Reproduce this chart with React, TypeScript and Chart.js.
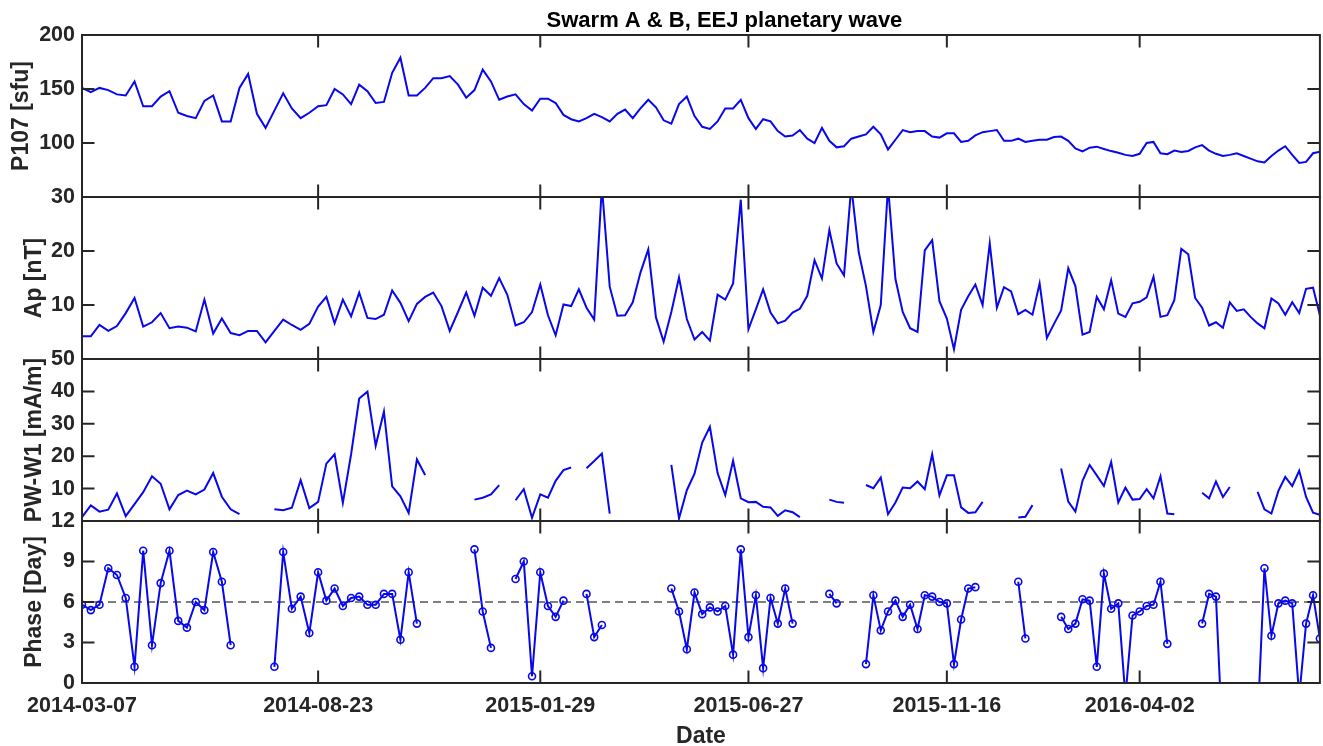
import React, { useEffect, useRef } from 'react';
import { Chart, registerables } from 'chart.js';

Chart.register(...registerables);

const titleText = 'Swarm A & B, EEJ planetary wave';
const xTitle = 'Date';
const tickDays = [0, 169, 328, 477, 619, 757];
const tickLabels = ['2014-03-07', '2014-08-23', '2015-01-29', '2015-06-27', '2015-11-16', '2016-04-02'];

// sample dates, in days after 2014-03-07
const sampleDay = [
  0, 6.3, 12.5, 18.8, 25.0, 31.3, 37.6, 43.8, 50.1, 56.3, 62.6, 68.9, 75.1, 81.4, 87.6, 93.9, 100.1, 106.4, 112.7, 118.9,
  125.2, 131.4, 137.7, 144.0, 150.2, 156.5, 162.7, 169.0,
  174.9, 180.8, 186.7, 192.6, 198.4, 204.3, 210.2, 216.1, 222.0, 227.9, 233.8, 239.7, 245.6, 251.4, 257.3, 263.2, 269.1,
  275.0, 280.9, 286.8, 292.7, 298.6, 304.4, 310.3, 316.2, 322.1, 328.0,
  333.5, 339.0, 344.6, 350.1, 355.6, 361.1, 366.6, 372.1, 377.7, 383.2, 388.7, 394.2, 399.7, 405.3, 410.8, 416.3, 421.8,
  427.3, 432.9, 438.4, 443.9, 449.4, 454.9, 460.4, 466.0, 471.5, 477.0,
  482.3, 487.5, 492.8, 498.0, 503.3, 508.6, 513.8, 519.1, 524.3, 529.6, 534.9, 540.1, 545.4, 550.6, 555.9, 561.1, 566.4,
  571.7, 576.9, 582.2, 587.4, 592.7, 598.0, 603.2, 608.5, 613.7, 619.0,
  624.1, 629.2, 634.3, 639.4, 644.6, 649.7, 654.8, 659.9, 665.0, 670.1, 675.2, 680.3, 685.4, 690.6, 695.7, 700.8, 705.9,
  711.0, 716.1, 721.2, 726.3, 731.4, 736.6, 741.7, 746.8, 751.9, 757.0,
  762.0, 766.9, 771.9, 776.8, 781.8, 786.8, 791.8, 796.7, 801.7, 806.7, 811.6, 816.6, 821.5, 826.5, 831.5, 836.4, 841.4,
  846.3, 851.3, 856.3, 861.2, 866.2, 871.2, 876.1, 881.1, 886.0,
];

const p107 = [
  151, 147, 151, 149, 145, 144, 157, 134, 134, 143, 148, 128, 125, 123, 139, 144, 120, 120, 151, 164, 127, 114, 130, 146,
  132, 123, 128, 134, 135, 150, 145, 136, 154, 148, 137, 138, 165, 179, 144, 144, 151, 160,
  160, 162, 154, 142, 149, 168, 157, 140, 143, 145, 136, 130, 141, 141, 137, 126, 122, 120, 123, 127, 124, 120, 127, 131,
  123, 132, 140, 133, 121, 118, 136, 143, 125, 115, 113, 120, 132, 132, 140, 123, 113, 122, 120, 111, 106, 107, 112, 104,
  100, 114, 102, 96, 97, 104, 106, 108, 115,
  108, 94, 103, 112, 110, 111, 111, 106, 105, 109, 109, 101, 102, 107, 110, 111, 112, 102, 102, 104, 101, 102, 103, 103,
  105.5, 106, 102, 95, 92.3, 95.7, 96.6, 94.5, 92.5, 91, 89, 88, 90, 100, 101, 90.5, 89.6, 93, 91.7, 92.6, 96, 98, 93, 90,
  88, 89, 90.5, 88, 85.5, 83, 82, 88, 93, 97, 89, 81.5, 82.5, 90.5, 92,
];

const ap = [
  4.2, 4.2, 6.3, 5.2, 6.1, 8.5, 11.3, 6.0, 6.8, 8.5, 5.7, 6.0, 5.8, 5.1, 11.0, 4.7, 7.5, 4.8, 4.4, 5.2, 5.2, 3.1, 5.2, 7.3,
  6.3, 5.4, 6.5, 9.7, 11.5, 6.6, 11.0, 7.9, 12.3, 7.6, 7.4, 8.2, 12.7, 10.4, 7.0, 10.2, 11.5, 12.3,
  9.8, 5.2, 8.7, 12.3, 8.0, 13.2, 11.7, 15.0, 11.9, 6.2, 6.8, 8.7, 13.8, 8.1, 4.4, 10.1, 9.8, 12.9, 9.5, 7.3, 32, 13.4,
  8.0, 8.1, 10.5, 16.0, 20.3, 7.7, 3.2, 8.7, 15.1, 7.4, 3.6, 5.0, 3.4, 11.9, 11.0, 14.0, 29.5, 5.5, 9.2, 12.9, 8.6, 6.6,
  7.1, 8.6, 9.3, 11.7, 18.3, 14.9, 23.9, 17.7, 15.5, 32, 19.8, 13.5, 5.0, 10.0,
  32, 14.8, 8.7, 5.7, 5.0, 20.1, 22.0, 10.7, 7.5, 1.8, 9.1, 11.6, 13.8, 10.0, 21.4, 9.5, 13.3, 12.5, 8.3, 9.1, 8.2, 14.0,
  3.9, 6.5, 9.0, 16.8, 13.5, 4.5, 5.0, 11.5, 9.2, 14.6, 8.4, 7.8, 10.3, 10.6, 11.4, 15.2, 7.8, 8.1, 10.9, 20.4, 19.4, 11.3,
  9.5, 6.2, 6.8, 5.8, 10.5, 8.9, 9.2, 7.8, 6.6, 5.7, 11.2, 10.3, 8.2, 10.5, 8.5, 13.0, 13.2, 8.1,
];

const pwW1 = [
  1.2, 4.8, 2.9, 3.5, 8.5, 1.5, 5.2, 8.9, 13.8, 11.5, 3.6, 8.0, 9.4, 8.2, 9.7, 14.8, 7.5, 3.6, 2.1,
  null, null, null,
  3.6, 3.3, 4.1, 12.6, 4.0, 5.9, 17.7, 20.6, 5.6, 20.6, 37.8, 39.9, 23.2, 33.8, 10.7, 7.6, 2.5, 19.0, 14.2,
  null, null, null, null, null,
  6.6, 7.2, 8.2, 11.1,
  null,
  6.4, 9.8, 1.0, 8.2, 7.2, 12.4, 15.7, 16.5,
  null,
  16.3, 18.5, 20.8, 2.3,
  null, null, null, null, null, null, null,
  17.3, 0.8, 9.5, 14.6, 24.2, 29.1, 14.8, 8.0, 18.6, 7.0, 5.8, 5.9, 4.4, 4.2, 1.6, 3.3, 2.7, 1.2,
  null, null, null,
  6.6, 5.9, 5.6,
  null, null,
  11.1, 10.1, 13.4, 2.1, 5.7, 10.3, 10.1, 12.2, 9.8, 20.6, 7.9, 14.1, 14.1, 4.2, 2.5, 2.7, 5.9,
  null, null, null, null,
  1.1, 1.3, 4.9,
  null, null, null,
  16.2, 6.0, 2.9, 12.4, 17.3, 14.1, 10.8, 18.2, 5.7, 10.3, 6.6, 6.8, 9.8, 7.0, 13.8, 2.3, 2.1,
  null, null, null,
  8.7, 7.0, 12.2, 7.4, 10.5,
  null, null, null,
  9.0, 3.6, 2.3, 9.3, 13.6, 10.8, 15.5, 7.4, 2.6, 1.9,
];

const phase = [
  5.8, 5.4, 5.8, 8.5, 8.0, 6.3, 1.2, 9.8, 2.8, 7.4, 9.8, 4.6, 4.1, 6.0, 5.4, 9.7, 7.5, 2.8,
  null, null, null, null,
  1.2, 9.7, 5.5, 6.4, 3.7, 8.2, 6.1, 7.0, 5.7, 6.3, 6.4, 5.8, 5.8, 6.6, 6.6, 3.2, 8.2, 4.4,
  null, null, null, null, null, null,
  9.9, 5.3, 2.6,
  null, null,
  7.7, 9.0, 0.5, 8.2, 5.7, 4.9, 6.1,
  null, null,
  6.6, 3.4, 4.3,
  null, null, null, null, null, null, null, null,
  7.0, 5.3, 2.5, 6.7, 5.1, 5.6, 5.3, 5.7, 2.1, 9.9, 3.4, 6.5, 1.1, 6.3, 4.4, 7.0, 4.4,
  null, null, null, null,
  6.6, 5.9,
  null, null, null,
  1.4, 6.5, 3.9, 5.3, 6.1, 4.9, 5.8, 4.0, 6.5, 6.4, 6.0, 5.9, 1.4, 4.7, 7.0, 7.1,
  null, null, null, null, null,
  7.5, 3.3,
  null, null, null, null,
  4.9, 4.0, 4.4, 6.2, 6.1, 1.2, 8.1, 5.5, 5.9, -1, 5.0, 5.3, 5.7, 5.8, 7.5, 2.9,
  null, null, null, null,
  4.4, 6.6, 6.4, -5,
  null, null, null, null,
  -3, 8.5, 3.5, 5.9, 6.1, 5.9, -1, 4.4, 6.5, 3.3,
];

const phaseRef = 6;
const xMin = 0;
const xMax = 886;

const INK = '#262626';
const BLUE = 'rgb(8,8,235)';
const FONT = "'Liberation Sans', Arial, Helvetica, sans-serif";
const TICK_LEN = 12.5;
const panelIds = ['yP107', 'yAp', 'yPW', 'yPh'];

const toPoints = (vals: (number | null)[]) => vals.map((v, i) => ({ x: sampleDay[i], y: v }));

const framePlugin = {
  id: 'matlabFrame',
  afterDraw(chart: any) {
    const { ctx, chartArea } = chart;
    const { left, right, top: areaTop } = chartArea;
    const xs = chart.scales.x;
    ctx.save();
    ctx.strokeStyle = INK;
    ctx.lineWidth = 2;
    panelIds.forEach((id) => {
      const s = chart.scales[id];
      const top = s.top;
      const bottom = s.bottom;
      ctx.beginPath();
      tickDays.forEach((d) => {
        const px = xs.getPixelForValue(d);
        ctx.moveTo(px, top);
        ctx.lineTo(px, top + TICK_LEN);
        ctx.moveTo(px, bottom);
        ctx.lineTo(px, bottom - TICK_LEN);
      });
      s.ticks.forEach((t: any) => {
        const py = s.getPixelForValue(t.value);
        ctx.moveTo(left, py);
        ctx.lineTo(left + TICK_LEN, py);
        ctx.moveTo(right, py);
        ctx.lineTo(right - TICK_LEN, py);
      });
      ctx.stroke();
      ctx.strokeRect(left, top, right - left, bottom - top);
    });
    // figure title (centred on the original, wider figure)
    ctx.fillStyle = '#000';
    ctx.font = `bold 22px ${FONT}`;
    ctx.textAlign = 'center';
    ctx.textBaseline = 'middle';
    ctx.fillText(titleText, (left + right) / 2 + 23.5, areaTop - 14.5);
    ctx.restore();
  },
};

const mkY = (min: number, max: number, step: number, hide: number | null, title: string, padTop: number) => ({
  type: 'linear',
  position: 'left',
  stack: 'panels',
  stackWeight: 1,
  min,
  max,
  ticks: {
    stepSize: step,
    autoSkip: false,
    padding: 7,
    color: INK,
    font: { family: FONT, size: 21.5, weight: 'bold' },
    callback: (v: any) => (hide !== null && Number(v) === hide ? '' : String(v)),
  },
  grid: { display: false, drawTicks: false },
  border: { display: false },
  title: {
    display: true,
    text: title,
    color: INK,
    font: { family: FONT, size: 23, weight: 'bold' },
    padding: { top: padTop, bottom: 0 },
  },
  afterFit: (s: any) => {
    s.width = 82;
  },
});

export default function App() {
  const ref = useRef<HTMLCanvasElement>(null);

  useEffect(() => {
    if (!ref.current) return;
    const chart = new Chart(ref.current, {
      type: 'line',
      data: {
        datasets: [
          {
            data: toPoints(p107),
            yAxisID: 'yP107',
            borderColor: BLUE,
            borderWidth: 2,
            pointRadius: 0,
            spanGaps: false,
          },
          {
            data: toPoints(ap),
            yAxisID: 'yAp',
            borderColor: BLUE,
            borderWidth: 2,
            pointRadius: 0,
            spanGaps: false,
          },
          {
            data: toPoints(pwW1),
            yAxisID: 'yPW',
            borderColor: BLUE,
            borderWidth: 2,
            pointRadius: 0,
            spanGaps: false,
          },
          {
            data: toPoints(phase),
            yAxisID: 'yPh',
            borderColor: BLUE,
            borderWidth: 2,
            pointRadius: 3.5,
            pointHoverRadius: 3.5,
            pointBorderWidth: 1.6,
            pointBorderColor: BLUE,
            pointBackgroundColor: 'rgba(255,255,255,0)',
            spanGaps: false,
          },
          {
            data: [
              { x: xMin, y: phaseRef },
              { x: xMax, y: phaseRef },
            ],
            yAxisID: 'yPh',
            borderColor: '#7f7f7f',
            borderWidth: 1.8,
            borderDash: [8, 5],
            pointRadius: 0,
          },
        ] as any,
      },
      options: {
        responsive: false,
        animation: false,
        devicePixelRatio: 1,
        layout: { padding: { left: 0, top: 35, right: 0, bottom: 0 } },
        elements: { line: { tension: 0 } },
        plugins: {
          legend: { display: false },
          tooltip: { enabled: false },
          title: { display: false },
        },
        scales: {
          x: {
            type: 'linear',
            position: 'bottom',
            min: xMin,
            max: xMax,
            afterBuildTicks: (s: any) => {
              s.ticks = tickDays.map((v) => ({ value: v }));
            },
            ticks: {
              autoSkip: false,
              maxRotation: 0,
              padding: 10,
              color: INK,
              font: { family: FONT, size: 21.5, weight: 'bold' },
              callback: (v: any) => {
                const k = tickDays.indexOf(Number(v));
                return k >= 0 ? tickLabels[k] : '';
              },
            },
            grid: { display: false, drawTicks: false },
            border: { display: false },
            title: {
              display: true,
              text: xTitle,
              color: INK,
              font: { family: FONT, size: 23, weight: 'bold', lineHeight: 0.85 },
              padding: { top: 0, bottom: 0 },
            },
            afterFit: (s: any) => {
              s.height = 63;
              s.paddingLeft = 0;
              s.paddingRight = 0;
            },
          },
          yPh: mkY(0, 12, 3, null, 'Phase [Day]', 21),
          yPW: mkY(0, 50, 10, 0, 'PW-W1 [mA/m]', 21),
          yAp: mkY(0, 30, 10, 0, 'Ap [nT]', 21),
          yP107: mkY(50, 200, 50, 50, 'P107 [sfu]', 8),
        } as any,
      },
      plugins: [framePlugin],
    });
    return () => chart.destroy();
  }, []);

  return (
    <div
      style={{
        position: 'fixed',
        left: 0,
        top: 0,
        width: 1323,
        height: 746,
        overflow: 'hidden',
        background: '#fff',
      }}
    >
      <canvas ref={ref} width={1325} height={746} style={{ display: 'block' }} />
    </div>
  );
}
